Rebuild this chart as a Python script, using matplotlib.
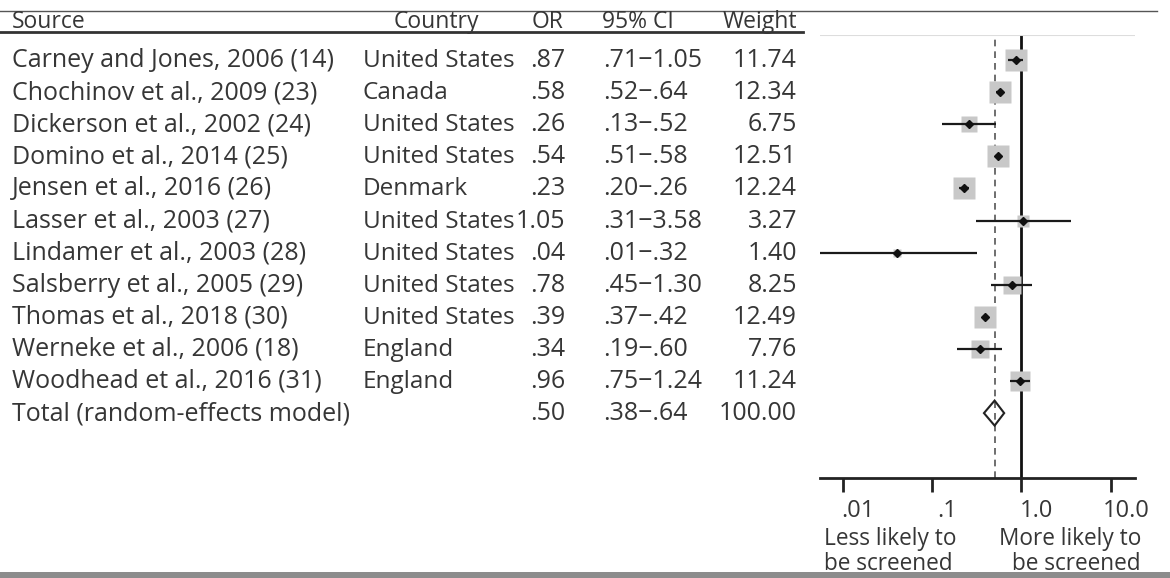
import numpy as np
import matplotlib.pyplot as plt
from matplotlib.patches import Polygon, Rectangle
from matplotlib.transforms import ScaledTranslation

sources = ['Carney and Jones, 2006 (14)', 'Chochinov et al., 2009 (23)',
           'Dickerson et al., 2002 (24)', 'Domino et al., 2014 (25)',
           'Jensen et al., 2016 (26)', 'Lasser et al., 2003 (27)',
           'Lindamer et al., 2003 (28)', 'Salsberry et al., 2005 (29)',
           'Thomas et al., 2018 (30)', 'Werneke et al., 2006 (18)',
           'Woodhead et al., 2016 (31)']
countries = ['United States', 'Canada', 'United States', 'United States',
             'Denmark', 'United States', 'United States', 'United States',
             'United States', 'England', 'England']
odds = [0.87, 0.58, 0.26, 0.54, 0.23, 1.05, 0.04, 0.78, 0.39, 0.34, 0.96]
ci_lo = [0.71, 0.52, 0.13, 0.51, 0.20, 0.31, 0.0055, 0.45, 0.37, 0.19, 0.75]
ci_hi = [1.05, 0.64, 0.52, 0.58, 0.26, 3.58, 0.32, 1.30, 0.42, 0.60, 1.24]
weights = [11.74, 12.34, 6.75, 12.51, 12.24, 3.27, 1.40, 8.25, 12.49, 7.76, 11.24]

total_label = 'Total (random-effects model)'
total_or, total_lo, total_hi, total_w = 0.50, 0.38, 0.64, 100.00

headers = ['Source', 'Country', 'OR', '95% CI', 'Weight']
tick_vals = [0.01, 0.1, 1.0, 10.0]
tick_labels = ['.01', '.1', '1.0', '10.0']


def fmt(v):
    s = '%.2f' % v
    return s[1:] if s.startswith('0') else s


def main():
    plt.rcParams['font.family'] = ['Open Sans', 'DejaVu Sans']
    txt = '#363636'
    fs = 18

    fig = plt.figure(figsize=(11.7, 5.78), dpi=100)
    bg = fig.add_axes([0, 0, 1, 1])
    bg.set_xlim(0, 1170)
    bg.set_ylim(578, 0)
    bg.axis('off')

    # header
    bg.plot([0, 1157], [11, 11], color='#555555', lw=1)
    bg.plot([0, 803], [32, 32], color='#333333', lw=2)
    hs = 16.5
    bg.text(12, 28, headers[0], fontsize=hs, color=txt, ha='left', va='baseline')
    bg.text(436, 28, headers[1], fontsize=hs, color=txt, ha='center', va='baseline')
    bg.text(548, 28, headers[2], fontsize=hs, color=txt, ha='center', va='baseline')
    bg.text(602, 28, headers[3], fontsize=hs, color=txt, ha='left', va='baseline')
    bg.text(797, 28, headers[4], fontsize=hs, color=txt, ha='right', va='baseline')

    # table rows
    step = 32.1
    dash = '\u2212'
    for i in range(len(sources)):
        yb = 67 + step * i
        bg.text(12, yb, sources[i], fontsize=fs, color=txt, va='baseline')
        bg.text(363, yb, countries[i], fontsize=17.5, color=txt, va='baseline')
        bg.text(565, yb, fmt(odds[i]), fontsize=fs, color=txt, ha='right', va='baseline')
        bg.text(603, yb, fmt(ci_lo[i]) + dash + fmt(ci_hi[i]), fontsize=fs,
                color=txt, va='baseline')
        bg.text(797, yb, '%.2f' % weights[i], fontsize=fs, color=txt, ha='right',
                va='baseline')
    yb = 67 + step * len(sources)
    bg.text(12, yb, total_label, fontsize=fs, color=txt, va='baseline')
    bg.text(565, yb, fmt(total_or), fontsize=fs, color=txt, ha='right', va='baseline')
    bg.text(603, yb, fmt(total_lo) + dash + fmt(total_hi), fontsize=fs,
            color=txt, va='baseline')
    bg.text(797, yb, '%.2f' % total_w, fontsize=fs, color=txt, ha='right', va='baseline')

    # bottom strip from the scanned page
    bg.add_patch(Rectangle((0, 572), 1170, 6, color='#8c8c8c', lw=0))

    # forest plot
    ax = fig.add_axes([820 / 1170, (578 - 478) / 578, (1135 - 820) / 1170, (478 - 35) / 578])
    ax.set_xscale('log')
    ax.set_xlim(10 ** -2.256, 10 ** 1.271)
    ax.set_ylim((478 - 60) / step, (35 - 60) / step)
    rows = np.arange(len(sources))

    for i in rows:
        side = 6.2 * np.sqrt(weights[i]) * 0.72
        ax.plot(odds[i], i, marker='s', ms=side, color='#c8c8c8', mec='none', zorder=2)
        ax.plot([ci_lo[i], ci_hi[i]], [i, i], color='#1a1a1a', lw=1.6,
                solid_capstyle='butt', zorder=3)
        ax.plot(odds[i], i, marker='D', ms=4.5, color='#111111', zorder=4)

    yt = len(sources)
    h = 12.5 / step
    ax.add_patch(Polygon([[total_lo, yt], [total_or, yt - h], [total_hi, yt],
                          [total_or, yt + h]], closed=True, fill=False,
                         ec='#222222', lw=1.5, zorder=4))
    ax.axvline(1.0, color='#111111', lw=2, zorder=1)
    ax.axvline(total_or, color='#555555', lw=1.2, ls=(0, (4, 3)), zorder=1)
    ax.axhline((35 - 60) / step, color='#dddddd', lw=1.5)

    for s in ['top', 'right', 'left']:
        ax.spines[s].set_visible(False)
    ax.spines['bottom'].set_linewidth(2)
    ax.spines['bottom'].set_color('#222222')
    ax.set_yticks([])
    ax.set_xticks(tick_vals)
    ax.set_xticklabels(tick_labels)
    ax.minorticks_off()
    ax.tick_params(axis='x', length=10, width=2, color='#222222', pad=5,
                   labelsize=17, labelcolor=txt)
    offset = ScaledTranslation(0.15, 0, fig.dpi_scale_trans)
    for lab in ax.get_xticklabels():
        lab.set_transform(lab.get_transform() + offset)

    bs = 16.3
    bg.text(824, 545, 'Less likely to', fontsize=bs, color=txt, ha='left', va='baseline')
    bg.text(824, 570, 'be screened', fontsize=bs, color=txt, ha='left', va='baseline')
    bg.text(1141, 545, 'More likely to', fontsize=bs, color=txt, ha='right', va='baseline')
    bg.text(1141, 570, 'be screened', fontsize=bs, color=txt, ha='right', va='baseline')

    fig.savefig('out.png', dpi=100)
    plt.close(fig)


if __name__ == "__main__":
    main()
